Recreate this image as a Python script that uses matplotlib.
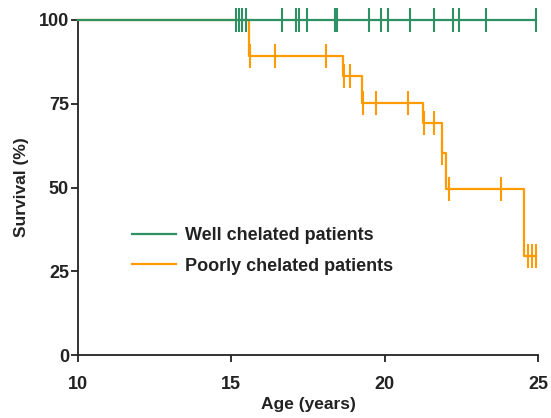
import numpy as np
import matplotlib.pyplot as plt

plt.rcParams['font.family'] = ['Liberation Sans', 'DejaVu Sans']
plt.rcParams['font.weight'] = 'bold'
plt.rcParams['axes.labelweight'] = 'bold'

green = '#2e9163'
orange = '#ff9a00'
txt = '#222222'

# well chelated: no events, censored ages
well_start = 10
well_censor = [15.14, 15.25, 15.34, 15.47, 16.65, 17.12, 17.20, 17.47, 18.39, 18.44,
               19.49, 19.87, 20.10, 20.82, 21.62, 22.23, 22.42, 23.31, 24.93]

# poorly chelated: event ages and survival after each event
poor_events = [15.58, 18.65, 19.27, 21.26, 21.86, 21.99, 24.54]
poor_surv = [89.3, 83.4, 75.3, 69.2, 60.4, 49.6, 29.6]
poor_censor = [15.62, 16.42, 18.09, 18.66, 18.87, 19.28, 19.72, 20.77, 21.29, 21.62,
               21.87, 22.09, 23.79, 24.69, 24.79, 24.92]


def surv_at(t, times, surv):
    s = 100.0
    for ti, si in zip(times, surv):
        if t >= ti:
            s = si
    return s


fig = plt.figure(figsize=(5.51, 4.18), dpi=100)
ax = fig.add_axes([78 / 551, 63 / 418, 460 / 551, 335 / 418])

# poorly chelated step curve
xs = [well_start] + poor_events + [poor_censor[-1]]
ys = [100] + poor_surv + [poor_surv[-1]]
ax.step(xs, ys, where='post', color=orange, lw=1.6, clip_on=False, zorder=3,
        label='Poorly chelated patients')
cy = [surv_at(t, poor_events, poor_surv) for t in poor_censor]
ax.plot(poor_censor, cy, ls='none', marker='|', ms=17, mew=1.5, color=orange,
        clip_on=False, zorder=3)

# well chelated
ax.plot([well_start, well_censor[-1]], [100, 100], color=green, lw=1.6,
        clip_on=False, zorder=4, label='Well chelated patients')
ax.plot(well_censor, [100] * len(well_censor), ls='none', marker='|', ms=17, mew=1.5,
        color=green, clip_on=False, zorder=4)

ax.set_xlim(10, 25)
ax.set_ylim(0, 100)
ax.set_xticks([10, 15, 20, 25])
ax.set_yticks([0, 25, 50, 75, 100])
for s in ['top', 'right']:
    ax.spines[s].set_visible(False)
for s in ['left', 'bottom']:
    ax.spines[s].set_linewidth(1.3)
    ax.spines[s].set_color(txt)
ax.tick_params(direction='out', length=5, width=1.3, colors=txt, labelsize=13)
ax.tick_params(axis='x', pad=10)
ax.tick_params(axis='y', pad=1.5)

ax.set_xlabel('Age (years)', fontsize=12.5, color=txt, labelpad=3)
ax.set_ylabel('Survival (%)', fontsize=12.5, color=txt, labelpad=7)

h, l = ax.get_legend_handles_labels()
leg = ax.legend(h[::-1], l[::-1], loc='upper left', bbox_to_anchor=(0.082, 0.43),
                frameon=False, fontsize=13, handlelength=2.45, handletextpad=0.5,
                labelspacing=0.75)
for t in leg.get_texts():
    t.set_color(txt)

fig.savefig('out.png', dpi=100)
